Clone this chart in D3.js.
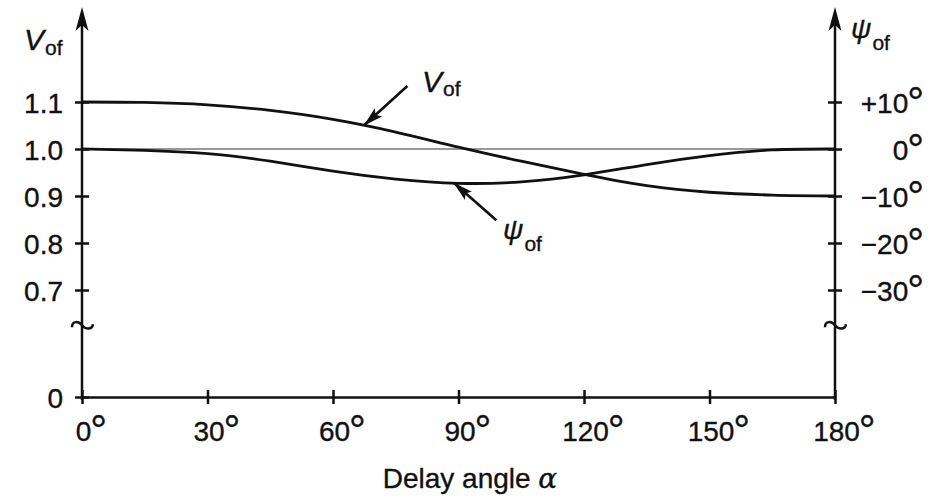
<!DOCTYPE html>
<html>
<head>
<meta charset="utf-8">
<script src="https://cdn.jsdelivr.net/npm/d3@7"></script>
<style>
  body { margin: 0; background: #fff; }
  svg { font-family: "Liberation Sans", Arial, Helvetica, sans-serif; }
  .lbl { fill: #111; font-size: 28px; stroke: #111; stroke-width: 0.35px; }
</style>
</head>
<body>
<svg id="chart" width="950" height="498"></svg>
<script>
// values (delay angle in degrees)
const alphaDeg = [0, 15, 30, 45, 60, 75, 90, 105, 120, 135, 150, 165, 180];
const vofValues = [1.100, 1.099, 1.094, 1.082, 1.063, 1.036, 1.004, 0.974, 0.946, 0.922, 0.908, 0.902, 0.900];
const psiValues = [0, -0.3, -1.0, -2.6, -4.7, -6.4, -7.3, -7.0, -5.5, -3.3, -1.4, -0.2, 0];

const xTicks = [0, 30, 60, 90, 120, 150, 180];
const vTicks = [0, 0.7, 0.8, 0.9, 1.0, 1.1];
const psiTicks = [-30, -20, -10, 0, 10];
const psiTickLabels = ['\u221230', '\u221220', '\u221210', '0', '+10'];

const svg = d3.select('#chart');

const x = d3.scaleLinear().domain([0, 180]).range([82, 835]);
// broken axis: 0 at the bottom, then 0.6 .. 1.2 stretched
const y = d3.scaleLinear().domain([0, 0.6, 1.2]).range([397, 337, 55]);
const yPsi = d3.scaleLinear().domain([-30, 10]).range([y(0.7), y(1.1)]);

const ink = '#111';

// arrow marker for the annotations
const defs = svg.append('defs');
defs.append('marker')
    .attr('id', 'head')
    .attr('markerUnits', 'userSpaceOnUse')
    .attr('markerWidth', 20).attr('markerHeight', 11)
    .attr('refX', 19).attr('refY', 5.5)
    .attr('orient', 'auto')
  .append('path')
    .attr('d', 'M0,0 L20,5.5 L0,11 L4,5.5 Z')
    .attr('fill', ink);

// reference line at 1.0 / 0 deg
svg.append('line')
    .attr('x1', x(0)).attr('x2', x(180))
    .attr('y1', y(1.0)).attr('y2', y(1.0))
    .attr('stroke', '#777').attr('stroke-width', 1.3);

// degree sign as a raised ring inside the same text
function addDegree(sel) {
    sel.append('tspan').attr('font-size', 42).attr('dx', -1).attr('dy', 4).text('\u00b0');
}

// x axis
const xAxis = svg.append('g')
    .attr('transform', `translate(0,${y(0)})`)
    .call(d3.axisBottom(x).tickValues(xTicks).tickSize(0).tickFormat(d => d));
xAxis.attr('font-family', null).attr('font-size', null);
xAxis.select('.domain').attr('stroke', ink).attr('stroke-width', 2.5);
xAxis.selectAll('.tick line').attr('y1', -7).attr('y2', 7).attr('stroke', ink).attr('stroke-width', 2.5);
xAxis.selectAll('.tick text').attr('class', 'lbl').attr('y', 44).attr('dy', 0)
    .attr('text-anchor', 'start')
    .each(function () {
        const t = d3.select(this);
        const w = this.getComputedTextLength();
        t.attr('x', -w / 2 + 1);
        addDegree(t);
    });

// left axis
const yAxis = svg.append('g')
    .attr('transform', `translate(${x(0)},0)`)
    .call(d3.axisLeft(y).tickValues(vTicks).tickSize(0)
        .tickFormat(d => d === 0 ? '0' : d3.format('.1f')(d)));
yAxis.attr('font-family', null).attr('font-size', null);
yAxis.select('.domain').remove();
yAxis.selectAll('.tick line').attr('x1', -7).attr('x2', 7).attr('stroke', ink).attr('stroke-width', 2.5);
yAxis.selectAll('.tick text').attr('class', 'lbl').attr('x', -19).attr('dy', '0.36em');

// right axis
const pAxis = svg.append('g')
    .attr('transform', `translate(${x(180)},0)`)
    .call(d3.axisRight(yPsi).tickValues(psiTicks).tickSize(0)
        .tickFormat((d, i) => psiTickLabels[i]));
pAxis.attr('font-family', null).attr('font-size', null);
pAxis.select('.domain').remove();
pAxis.selectAll('.tick line').attr('x1', -7).attr('x2', 7).attr('stroke', ink).attr('stroke-width', 2.5);
pAxis.selectAll('.tick text').attr('class', 'lbl').attr('x', 89).attr('dy', '0.36em')
    .attr('text-anchor', 'end')
    .each(function () { addDegree(d3.select(this)); });

// vertical axis lines with arrows and break marks
[x(0), x(180)].forEach(ax => {
    svg.append('line')
        .attr('x1', ax).attr('x2', ax).attr('y1', y(0) + 3).attr('y2', 20)
        .attr('stroke', ink).attr('stroke-width', 2.5);
    svg.append('path')
        .attr('d', `M${ax},7 L${ax - 6.5},31 L${ax},25 L${ax + 6.5},31 Z`)
        .attr('fill', ink);
    const by = y(0.625);
    svg.append('path')
        .attr('d', `M${ax - 10},${by + 2} C${ax - 10},${by - 5} ${ax - 3},${by - 4} ${ax},${by}` +
                   ` C${ax + 3},${by + 4} ${ax + 10},${by + 5} ${ax + 11},${by - 1}`)
        .attr('fill', 'none').attr('stroke', ink).attr('stroke-width', 2.5);
});

// curves
const vData = alphaDeg.map((a, i) => [a, vofValues[i]]);
const pData = alphaDeg.map((a, i) => [a, psiValues[i]]);

svg.append('path')
    .datum(vData)
    .attr('d', d3.line().x(d => x(d[0])).y(d => y(d[1])).curve(d3.curveNatural))
    .attr('fill', 'none').attr('stroke', ink).attr('stroke-width', 2.8);

svg.append('path')
    .datum(pData)
    .attr('d', d3.line().x(d => x(d[0])).y(d => yPsi(d[1])).curve(d3.curveNatural))
    .attr('fill', 'none').attr('stroke', ink).attr('stroke-width', 2.8);

// annotations
const vTip = [x(67.5), y(1.051)];
svg.append('line')
    .attr('x1', vTip[0] + 43).attr('y1', vTip[1] - 39)
    .attr('x2', vTip[0]).attr('y2', vTip[1])
    .attr('stroke', ink).attr('stroke-width', 2.6).attr('marker-end', 'url(#head)');

const pTip = [x(89), yPsi(-7.3)];
svg.append('line')
    .attr('x1', pTip[0] + 42).attr('y1', pTip[1] + 37)
    .attr('x2', pTip[0]).attr('y2', pTip[1])
    .attr('stroke', ink).attr('stroke-width', 2.6).attr('marker-end', 'url(#head)');

function symLabel(px, py, sym, sub, symSize, subSize, subDy) {
    const t = svg.append('text').attr('class', 'lbl').attr('x', px).attr('y', py);
    t.append('tspan').attr('font-style', 'italic').attr('font-size', symSize).text(sym);
    t.append('tspan').attr('font-size', subSize).attr('dy', subDy).attr('dx', 1).text(sub);
}

symLabel(24, 50, 'V', 'of', 30, 21, 5);
symLabel(422, 92, 'V', 'of', 30, 21, 4);
symLabel(851, 38, '\u03c8', 'of', 28, 21, 12);
symLabel(503, 239, '\u03c8', 'of', 28, 21, 12);

// x axis title
const title = svg.append('text').attr('class', 'lbl')
    .attr('x', 470).attr('y', 488).attr('text-anchor', 'middle').attr('font-size', 29);
title.append('tspan').text('Delay angle ');
title.append('tspan').attr('font-style', 'italic').attr('font-family', 'DejaVu Serif').text('\u03b1');
</script>
</body>
</html>
